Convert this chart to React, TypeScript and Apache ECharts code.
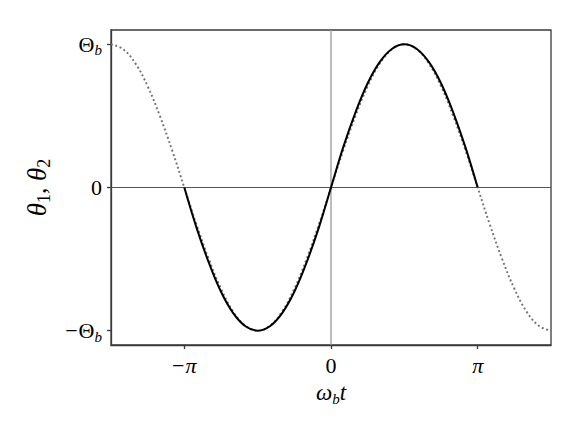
import React, { useEffect, useRef } from "react";
import * as echarts from "echarts";

// x positions are in units of π
const dottedX = [
  -1.5, -1.417, -1.333, -1.25, -1.167, -1.083, -1, -0.917, -0.833, -0.75, -0.667, -0.583,
  -0.5, -0.417, -0.333, -0.25, -0.167, -0.083, 0, 0.083, 0.167, 0.25, 0.333, 0.417,
  0.5, 0.583, 0.667, 0.75, 0.833, 0.917, 1, 1.083, 1.167, 1.25, 1.333, 1.417, 1.5,
];
const dottedY = [
  1, 0.966, 0.866, 0.707, 0.5, 0.259, 0, -0.259, -0.5, -0.707, -0.866, -0.966,
  -1, -0.966, -0.866, -0.707, -0.5, -0.259, 0, 0.259, 0.5, 0.707, 0.866, 0.966,
  1, 0.966, 0.866, 0.707, 0.5, 0.259, 0, -0.259, -0.5, -0.707, -0.866, -0.966, -1,
];
const solidX = [
  -1, -0.917, -0.833, -0.75, -0.667, -0.583, -0.5, -0.417, -0.333, -0.25, -0.167, -0.083,
  0, 0.083, 0.167, 0.25, 0.333, 0.417, 0.5, 0.583, 0.667, 0.75, 0.833, 0.917, 1,
];
const solidY = [
  0, -0.28, -0.525, -0.728, -0.877, -0.969, -1, -0.969, -0.877, -0.728, -0.525, -0.28,
  0, 0.28, 0.525, 0.728, 0.877, 0.969, 1, 0.969, 0.877, 0.728, 0.525, 0.28, 0,
];
const xTicks = [-1, 0, 1];
const xTickLabels = ["{m|−}{p|π}", "{n|0}", "{p|π}"];
const yTicks = [-1, 0, 1];
const yTickLabels = ["{m|−}{n|Θ}{s|b}", "{n|0}", "{n|Θ}{s|b}"];

const FONT = "Liberation Serif";
const rich = {
  n: { fontFamily: FONT, fontSize: 22, color: "#000" },
  m: { fontFamily: FONT, fontSize: 22, color: "#000", padding: [0, 1, 0, 0] },
  p: { fontFamily: FONT, fontSize: 22, fontStyle: "italic", color: "#000" },
  i: { fontFamily: FONT, fontSize: 23, fontStyle: "italic", color: "#000" },
  s: { fontFamily: FONT, fontSize: 15, fontStyle: "italic", color: "#000", padding: [12, 0, 0, 0] },
  yi: { fontFamily: FONT, fontSize: 27, fontStyle: "italic", color: "#000" },
  yn: { fontFamily: FONT, fontSize: 26, color: "#000" },
  yd: { fontFamily: FONT, fontSize: 18, color: "#000", padding: [14, 0, 0, 0] },
};

export default function App() {
  const ref = useRef<HTMLDivElement>(null);
  useEffect(() => {
    if (!ref.current) return;
    const chart = echarts.init(ref.current, null, { renderer: "svg" });
    const frame = "#3a3a3a";
    chart.setOption({
      animation: false,
      backgroundColor: "#fff",
      grid: { left: 103, top: 22, right: 22, bottom: 83, show: true, borderColor: frame, borderWidth: 1.3 },
      xAxis: {
        type: "value",
        min: -1.5,
        max: 1.5,
        name: "{i|ω}{s|b}{i|t}",
        nameLocation: "middle",
        nameGap: 34,
        nameTextStyle: { fontFamily: FONT, fontSize: 22, rich },
        axisLine: { show: true, onZero: false, lineStyle: { color: frame, width: 1.3 } },
        axisTick: { show: true, length: 4, customValues: xTicks, lineStyle: { color: frame, width: 1.3 } },
        axisLabel: {
          customValues: xTicks,
          margin: 9,
          fontFamily: FONT,
          fontSize: 22,
          color: "#000",
          formatter: (v: number) => xTickLabels[xTicks.indexOf(Math.round(v))] ?? "",
          rich,
        },
        splitLine: { show: false },
      },
      yAxis: {
        type: "value",
        min: -1.1,
        max: 1.1,
        name: "{yi|θ}{yd|1}{yn|, }{yi|θ}{yd|2}",
        nameLocation: "middle",
        nameGap: 58,
        nameRotate: 90,
        nameTextStyle: { fontFamily: FONT, fontSize: 26, rich },
        axisLine: { show: true, onZero: false, lineStyle: { color: frame, width: 1.3 } },
        axisTick: { show: true, length: 4, customValues: yTicks, lineStyle: { color: frame, width: 1.3 } },
        axisLabel: {
          customValues: yTicks,
          margin: 9,
          fontFamily: FONT,
          fontSize: 22,
          color: "#000",
          formatter: (v: number) => yTickLabels[yTicks.indexOf(Math.round(v))] ?? "",
          rich,
        },
        splitLine: { show: false },
      },
      series: [
        {
          type: "line",
          data: [[-1.5, 0], [1.5, 0]],
          symbol: "none",
          lineStyle: { color: "#555", width: 1 },
          silent: true,
        },
        {
          type: "line",
          data: [[0, -1.1], [0, 1.1]],
          symbol: "none",
          lineStyle: { color: "#999", width: 1.3 },
          silent: true,
        },
        {
          type: "line",
          data: dottedX.map((x, i) => [x, dottedY[i]]),
          symbol: "none",
          smooth: 0.4,
          lineStyle: { color: "#707070", width: 1.9, type: [1.9, 2.6] },
        },
        {
          type: "line",
          data: solidX.map((x, i) => [x, solidY[i]]),
          symbol: "none",
          smooth: 0.4,
          lineStyle: { color: "#000", width: 2 },
        },
      ],
    });
    return () => chart.dispose();
  }, []);
  return <div ref={ref} style={{ width: 565, height: 420 }} />;
}
